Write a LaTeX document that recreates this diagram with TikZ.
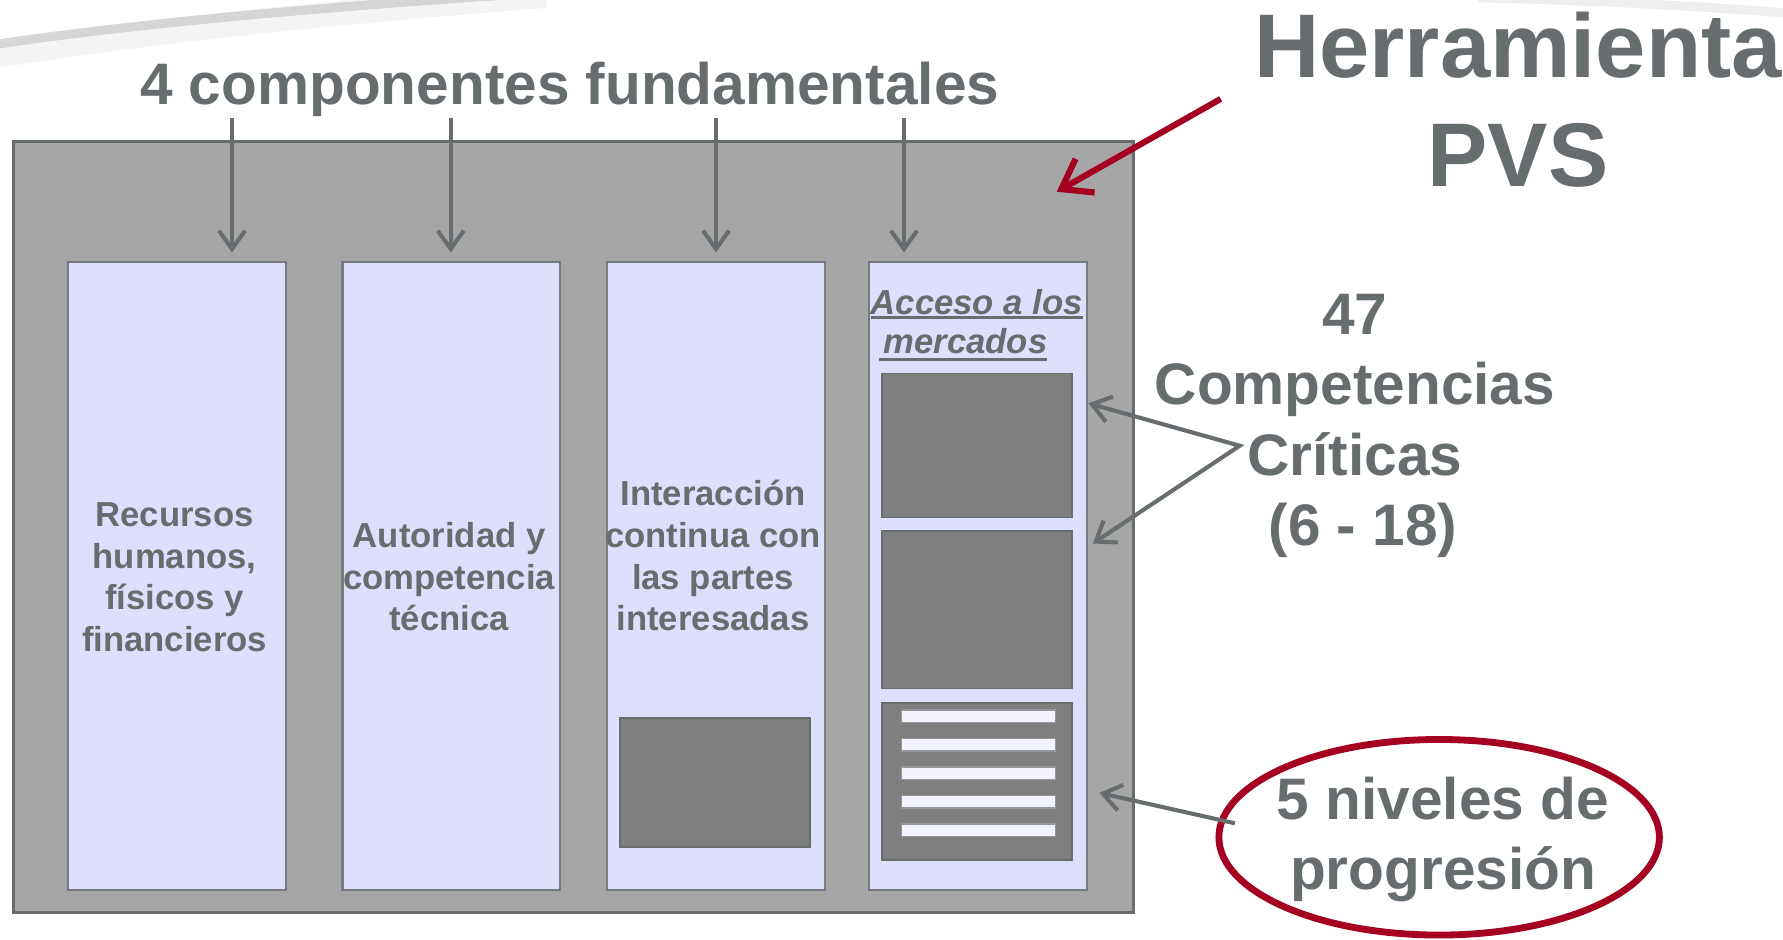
\documentclass[tikz,border=0pt]{standalone}
\usepackage{fontspec}
\setmainfont{Liberation Sans}
\usetikzlibrary{arrows.meta,shapes.geometric,calc}
\definecolor{txtgray}{RGB}{103,108,111}
\definecolor{boxgray}{RGB}{166,166,166}
\definecolor{lav}{RGB}{222,223,253}
\definecolor{darkfill}{RGB}{127,127,127}
\definecolor{barfill}{RGB}{243,243,254}
\definecolor{pvsred}{RGB}{165,0,33}
\definecolor{swooshgray}{RGB}{200,200,200}
\newcommand{\mystack}[2]{\parbox[t]{#1}{\centering #2}}
\begin{document}
\begin{tikzpicture}[x=1pt,y=-1pt,
  box/.style={rectangle, inner sep=0pt, outer sep=0pt, anchor=north west},
  bigbox/.style={box, fill=boxgray, draw=txtgray, line width=2.6pt},
  colbox/.style={box, fill=lav, draw=txtgray!90!white, line width=1.8pt, minimum width=191.5pt, minimum height=553pt},
  darkbox/.style={box, fill=darkfill, draw=txtgray, line width=1.5pt},
  barbox/.style={box, fill=barfill, draw=txtgray!70!white, line width=1.2pt, minimum width=135pt, minimum height=11pt},
  lbl/.style={inner sep=0pt, outer sep=0pt, anchor=base, text=txtgray},
  coltext/.style={lbl, font=\bfseries\fontsize{30.5pt}{36.6pt}\selectfont},
  bigtext/.style={lbl, font=\bfseries\fontsize{51.5pt}{61.8pt}\selectfont},
  garrow/.style={draw=txtgray, line width=3.6pt, -{Straight Barb[length=16pt,width=23pt]}},
  rarrow/.style={draw=pvsred, line width=5.4pt, -{Straight Barb[length=24pt,width=34pt]}},
  uline/.style={draw=txtgray, line width=2.6pt},
]
\useasboundingbox (0,0) rectangle (1568,825.8);

% faint background swooshes
\draw[line width=22pt, swooshgray, opacity=0.2] (-10,50) .. controls (120,28) and (300,10) .. (480,-4);
\draw[line width=8pt, swooshgray, opacity=0.7] (-10,40) .. controls (120,20) and (300,5) .. (470,-6);
\draw[line width=8pt, swooshgray, opacity=0.3] (1300,-2) .. controls (1420,1) and (1500,6) .. (1580,12);

% frame
\node[bigbox, minimum width=985pt, minimum height=677.8pt] (frame) at (11.7,124.6) {};

% columns
\node[colbox] (col1) at (60,230) {};
\node[colbox] (col2) at (301.2,230) {};
\node[colbox] (col3) at (534,230) {};
\node[colbox] (col4) at (764.2,230) {};

% dark boxes
\node[darkbox, minimum width=167pt, minimum height=113.2pt] (d3) at (545.3,631.7) {};
\node[darkbox, minimum width=167.1pt, minimum height=126.5pt] (d41) at (775.5,328.5) {};
\node[darkbox, minimum width=167.1pt, minimum height=138.5pt] (d42) at (775.5,467) {};
\node[darkbox, minimum width=167.1pt, minimum height=138.3pt] (d43) at (775.5,618) {};
\node[barbox] (b1) at (793,624.5) {};
\node[barbox] (b2) at (793,649.5) {};
\node[barbox] (b3) at (793,674.5) {};
\node[barbox] (b4) at (793,699.5) {};
\node[barbox] (b5) at (793,724.5) {};

% column texts
\node[coltext] (t1) at (153.5,463.2) {\mystack{230pt}{Recursos\\humanos,\\físicos y\\financieros}};
\node[coltext] (t2) at (395,481.4) {\mystack{230pt}{Autoridad y\\competencia\\técnica}};
\node[coltext] (t3) at (627,444.8) {\mystack{230pt}{Interacción\\continua con\\las partes\\interesadas}};
\node[coltext, anchor=base west, font=\bfseries\itshape\fontsize{30.5pt}{36.6pt}\selectfont] (acc) at (765.7,276.3) {Acceso a los};
\node[coltext, anchor=base west, font=\bfseries\itshape\fontsize{30.5pt}{36.6pt}\selectfont] (merc) at (777,311) {mercados};
\draw[uline] ($(acc.base west)+(0,3)$) -- ($(acc.base east)+(0,3)$);
\draw[uline] ($(merc.base west)+(-4,5)$) -- ($(merc.base east)+(0,5)$);

% titles
\node[lbl, font=\bfseries\fontsize{51.5pt}{61.8pt}\selectfont] (title) at (501,91.5) {4 componentes fundamentales};
\node[lbl, font=\bfseries\fontsize{79.5pt}{95.3pt}\selectfont] (herr) at (1335,68.3) {\mystack{540pt}{Herramienta\\PVS}};
\node[bigtext] (comp) at (1191.5,294.3) {\mystack{420pt}{47\\Competencias\\Críticas\\\hspace*{0.28em}(6 - 18)}};

% ellipse
\node[ellipse, draw=pvsred, line width=6pt, minimum width=387.4pt, minimum height=172pt, inner sep=0pt] (ell) at (1265.6,736.3) {};
\node[bigtext, font=\bfseries\fontsize{51.5pt}{61.5pt}\selectfont] (niv) at (1269,720.3) {\mystack{360pt}{5 niveles de\\progresión}};

% connectors
\coordinate (s1) at (204,104);
\coordinate (s2) at (396.4,104);
\coordinate (s3) at (629.7,104);
\coordinate (s4) at (795,104);
\draw[garrow] (s1) -- ($(s1 |- col1.north)+(0,-8)$);
\draw[garrow] (s2) -- ($(s2 |- col2.north)+(0,-8)$);
\draw[garrow] (s3) -- ($(s3 |- col3.north)+(0,-8)$);
\draw[garrow] (s4) -- ($(s4 |- col4.north)+(0,-8)$);

\coordinate (r0) at (1073.5,87);
\coordinate (r1) at (929.3,168.6);
\draw[rarrow] (r0) -- (r1);

\coordinate (cv) at (1090.2,392);
\coordinate (ct1) at (957.2,354.7);
\coordinate (ct2) at (961,478);
\draw[draw=txtgray, line width=3.6pt, {Straight Barb[length=16pt,width=23pt]}-{Straight Barb[length=16pt,width=23pt]}] (ct1) -- (cv) -- (ct2);

\coordinate (e0) at (1086,724);
\coordinate (et) at (966.8,697.3);
\draw[garrow] (e0) -- (et);
\end{tikzpicture}
\end{document}
